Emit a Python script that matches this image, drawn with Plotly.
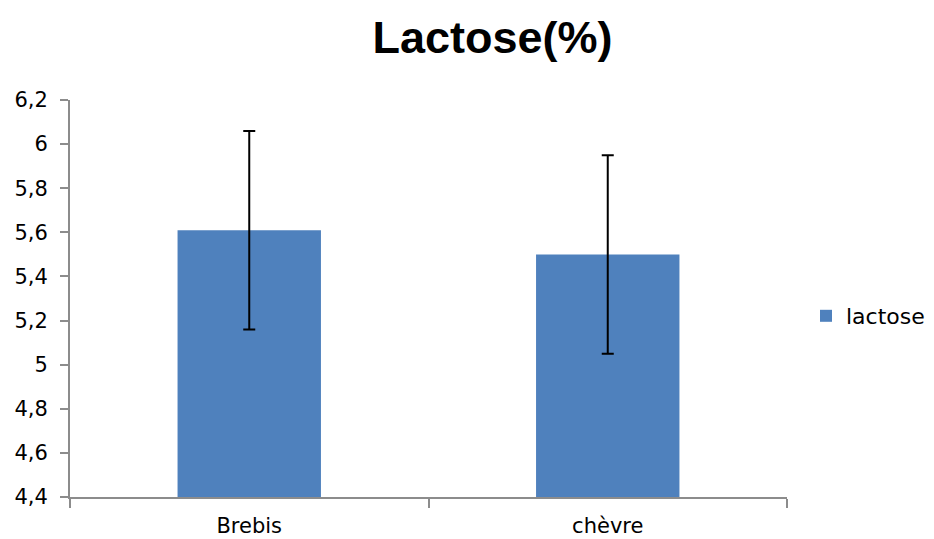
import plotly.graph_objects as go

categories = ["Brebis", "chèvre"]
values = [5.61, 5.50]
errors = [0.45, 0.45]
series_name = "lactose"
title_text = "Lactose(%)"

fig = go.Figure()
fig.add_trace(go.Bar(
    x=categories, y=values, name=series_name,
    marker=dict(color="#4F81BD", line=dict(width=0)),
    width=0.4,
    error_y=dict(type="data", array=errors, visible=True, color="black", thickness=2, width=6),
    showlegend=True,
))

axis_font = dict(family="DejaVu Sans, sans-serif", size=21, color="black")
legend_font = dict(family="DejaVu Sans, sans-serif", size=22, color="black")

fig.update_layout(
    width=934, height=539,
    margin=dict(l=70, r=147, t=100, b=42, autoexpand=False),
    paper_bgcolor="white", plot_bgcolor="white",
    separators=", ",
    title=dict(text="<b>" + title_text + "</b>", x=492.5 / 934, xanchor="center",
               y=1 - 37/539, yanchor="middle",
               font=dict(family="Liberation Sans, Arial, sans-serif", size=45, color="black")),
    showlegend=True,
    legend=dict(xref="container", yref="container", x=806/934, y=1 - 316/539,
                xanchor="left", yanchor="middle",
                font=legend_font, bgcolor="rgba(0,0,0,0)", borderwidth=0,
                itemwidth=30, tracegroupgap=0),
    bargap=0.6,
)
fig.update_yaxes(range=[4.4, 6.2], dtick=0.2, tick0=4.4, showgrid=False, zeroline=False,
                 showline=True, linecolor="#8C8C8C", linewidth=2,
                 ticks="outside", ticklen=8, tickcolor="#8C8C8C", tickwidth=2,
                 tickfont=axis_font, ticklabelstandoff=8)
fig.update_xaxes(showgrid=False, showline=True, linecolor="#8C8C8C", linewidth=2,
                 ticks="outside", tickson="boundaries", ticklen=9, tickcolor="#8C8C8C", tickwidth=2,
                 tickfont=axis_font, ticklabelstandoff=9)

fig.write_html("out.html", config={"displayModeBar": False},
               post_script="document.body.style.margin='0';")
